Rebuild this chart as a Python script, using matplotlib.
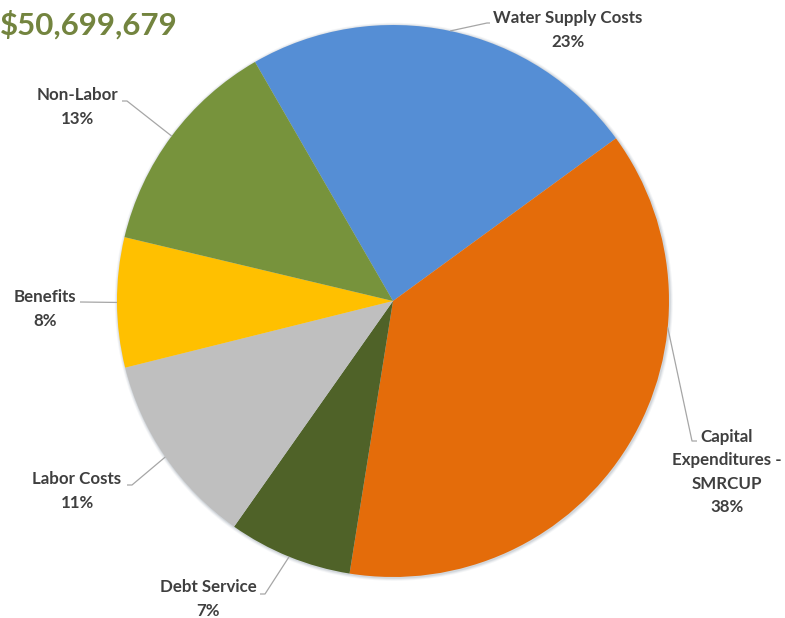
import numpy as np
import matplotlib
matplotlib.use("Agg")
import matplotlib.pyplot as plt
from matplotlib.patches import Circle

# Budget breakdown (percent of total), listed clockwise from the top slice
categories = ["Water Supply Costs", "Capital\nExpenditures -\nSMRCUP", "Debt Service",
              "Labor Costs", "Benefits", "Non-Labor"]
shares = [23.3, 37.55, 7.25, 11.35, 7.6, 12.95]
total_label = "$50,699,679"

colors = ["#558ED5", "#E46C0A", "#4F6228", "#BFBFBF", "#FFC000", "#77933C"]

W, H = 785, 618
fig = plt.figure(figsize=(W / 100, H / 100), dpi=100)
ax = fig.add_axes([0, 0, 1, 1])

cx, cy, r = 393, H - 301, 276

# soft drop shadow under the pie
for k, a in zip([3.0, 2.0, 1.0], [0.08, 0.12, 0.18]):
    ax.add_patch(Circle((cx + 0.8, cy - 0.8), r + k, facecolor="#7F8C99",
                        edgecolor="none", alpha=a, zorder=0))

wedges, _ = ax.pie(shares, colors=colors, startangle=120, counterclock=False,
                   center=(cx, cy), radius=r,
                   wedgeprops=dict(linewidth=0, zorder=1))
ax.set_xlim(0, W)
ax.set_ylim(0, H)
ax.set_aspect("equal")
ax.axis("off")

# label layout: text centre (px from top-left), elbow point, stub end, anchor angle override
layout = [
    dict(xy=(568, 30), elbow=(487, 23), stub=(490, 23)),
    dict(xy=(727, 472), elbow=(692, 441), stub=(697, 441), ang=-5.5),
    dict(xy=(208, 599), elbow=(265, 594), stub=(260, 594)),
    dict(xy=(77, 491), elbow=(132, 485), stub=(127, 485)),
    dict(xy=(45, 309), elbow=(80, 302), stub=(80, 302)),
    dict(xy=(77, 107), elbow=(127, 101), stub=(122, 101)),
]

text_color = "#3F3F3F"
line_color = "#A6A6A6"
total = sum(shares)
for w, cat, val, lay in zip(wedges, categories, shares, layout):
    ang = lay.get("ang", (w.theta1 + w.theta2) / 2)
    ax_pt = (cx + r * np.cos(np.radians(ang)), cy + r * np.sin(np.radians(ang)))
    ex, ey = lay["elbow"]
    sx, sy = lay["stub"]
    ax.plot([ax_pt[0], ex, sx], [ax_pt[1], H - ey, H - sy],
            color=line_color, lw=0.9, solid_capstyle="butt", zorder=2)
    tx, ty = lay["xy"]
    ax.text(tx, H - ty, f"{cat}\n{100 * val / total:.0f}%", ha="center", va="center",
            fontsize=12.2, fontfamily="Lato", fontweight="bold",
            color=text_color, linespacing=1.55, zorder=3)

fig.text(0, 1 - 25 / H, total_label, ha="left", va="center",
         fontsize=22.5, fontfamily="Lato", fontweight="bold", color="#73843F")

fig.savefig("out.png", dpi=100, facecolor="white")
